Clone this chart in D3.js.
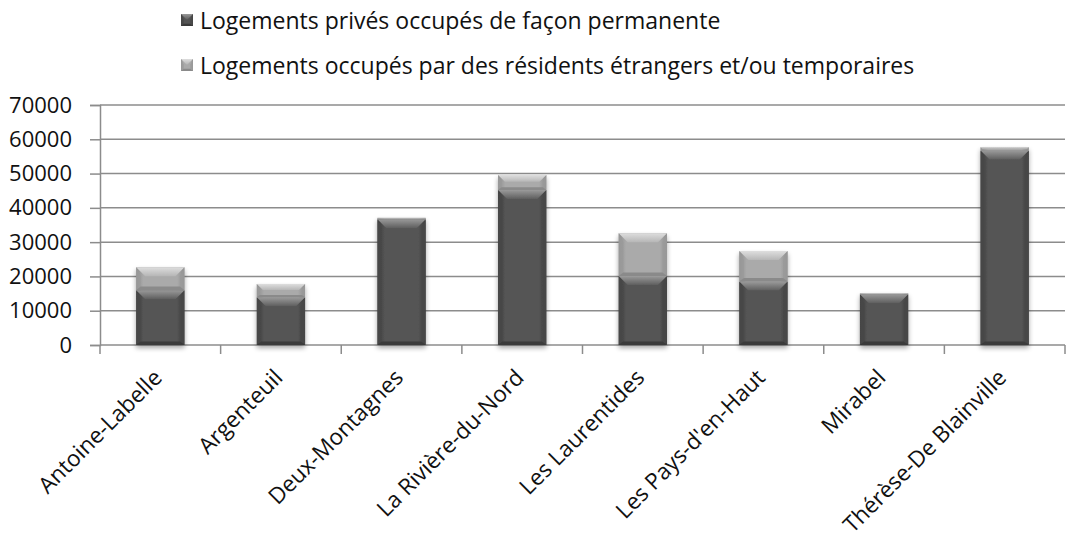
<!DOCTYPE html>
<html>
<head>
<meta charset="utf-8">
<script src="https://cdn.jsdelivr.net/npm/d3@7/dist/d3.min.js"></script>
<style>
body { margin: 0; background: #fff; }
text { font-family: "Open Sans", sans-serif; fill: #111; }
</style>
</head>
<body>
<div id="svgBody"></div>
<script>
// data
var categories = ["Antoine-Labelle", "Argenteuil", "Deux-Montagnes", "La Rivière-du-Nord",
                  "Les Laurentides", "Les Pays-d'en-Haut", "Mirabel", "Thérèse-De Blainville"];
var permanent = [16000, 13900, 36700, 45200, 20100, 18500, 14800, 56700];
var temporary = [6700, 3900, 400, 4400, 12500, 8900, 300, 1000];
var seriesNames = ["Logements privés occupés de façon permanente",
                   "Logements occupés par des résidents étrangers et/ou temporaires"];
var yTicks = [0, 10000, 20000, 30000, 40000, 50000, 60000, 70000];

var W = 1067, H = 539;
var plot = {left: 100, right: 1065, top: 105, bottom: 345};

var svg = d3.select("#svgBody")
    .append("svg")
    .attr("width", W)
    .attr("height", H);

var defs = svg.append("defs");

// bevel colours for the two series
var styles = [
    {id: "perm", face: "#545454", edge: "#3e3e3e", topHi: "#9a9a9a", topLo: "#5e5e5e", side: "#474747", bot: "#3a3a3a"},
    {id: "temp", face: "#aaaaaa", edge: "#8e8e8e", topHi: "#dedede", topLo: "#b6b6b6", side: "#9a9a9a", bot: "#8a8a8a"}
];

styles.forEach(function(s) {
    var g = defs.append("linearGradient").attr("id", s.id + "Face")
        .attr("x1", 0).attr("x2", 1).attr("y1", 0).attr("y2", 0);
    g.append("stop").attr("offset", "0%").attr("stop-color", s.edge);
    g.append("stop").attr("offset", "15%").attr("stop-color", s.face);
    g.append("stop").attr("offset", "85%").attr("stop-color", s.face);
    g.append("stop").attr("offset", "100%").attr("stop-color", s.edge);
    var t = defs.append("linearGradient").attr("id", s.id + "Top")
        .attr("x1", 0).attr("x2", 0).attr("y1", 0).attr("y2", 1);
    t.append("stop").attr("offset", "0%").attr("stop-color", s.topHi);
    t.append("stop").attr("offset", "100%").attr("stop-color", s.topLo);
});

var shadow = defs.append("filter").attr("id", "shadow")
    .attr("x", "-20%").attr("y", "-10%").attr("width", "140%").attr("height", "130%");
shadow.append("feGaussianBlur").attr("in", "SourceAlpha").attr("stdDeviation", 2.5);
shadow.append("feOffset").attr("dx", 0).attr("dy", 3).attr("result", "off");
shadow.append("feComponentTransfer").append("feFuncA").attr("type", "linear").attr("slope", 0.35);
var merge = shadow.append("feMerge");
merge.append("feMergeNode");
merge.append("feMergeNode").attr("in", "SourceGraphic");

var x = d3.scaleBand()
    .domain(categories)
    .range([plot.left, plot.right])
    .padding(0);

var y = d3.scaleLinear()
    .domain([0, 70000])
    .range([plot.bottom, plot.top]);

// gridlines
svg.append("g")
    .selectAll("line")
    .data(yTicks)
    .enter()
    .append("line")
    .attr("x1", plot.left)
    .attr("x2", plot.right)
    .attr("y1", function(d) { return y(d); })
    .attr("y2", function(d) { return y(d); })
    .attr("stroke", "#8c8c8c")
    .attr("stroke-width", 1.5);

// y axis
var yAxis = svg.append("g")
    .attr("transform", "translate(" + plot.left + ",0)")
    .call(d3.axisLeft(y).tickValues(yTicks).tickSize(10).tickPadding(18).tickFormat(d3.format("d")));
yAxis.select(".domain").attr("stroke", "#8c8c8c").attr("stroke-width", 1.5);
yAxis.selectAll(".tick line").attr("stroke", "#8c8c8c").attr("stroke-width", 1.5);
yAxis.selectAll(".tick text")
    .attr("font-size", "22px")
    .attr("font-family", "Open Sans")
    .attr("fill", "#111");

// x axis: tick marks at category boundaries
var bounds = categories.map(function(c) { return x(c); }).concat([plot.right]);
svg.append("g")
    .selectAll("line")
    .data(bounds)
    .enter()
    .append("line")
    .attr("x1", function(d) { return d; })
    .attr("x2", function(d) { return d; })
    .attr("y1", plot.bottom)
    .attr("y2", plot.bottom + 9)
    .attr("stroke", "#8c8c8c")
    .attr("stroke-width", 1.5);

var xAxis = svg.append("g")
    .attr("transform", "translate(0," + plot.bottom + ")")
    .call(d3.axisBottom(x).tickSize(0));
xAxis.select(".domain").remove();
xAxis.selectAll(".tick text")
    .attr("y", 0)
    .attr("dy", 0)
    .attr("transform", "translate(3,34) rotate(-45)")
    .style("text-anchor", "end")
    .attr("font-size", "22.5px")
    .attr("font-family", "Open Sans")
    .attr("fill", "#111");

// bevelled block
function bevel(g, bx, by, bw, bh, s) {
    if (bh <= 0) return;
    var b = Math.min(9, bh / 2.2, bw / 2);
    g.append("rect")
        .attr("x", bx).attr("y", by).attr("width", bw).attr("height", bh)
        .attr("fill", "url(#" + s.id + "Face)");
    // side bevels
    g.append("polygon")
        .attr("points", [[bx, by], [bx + b * 0.5, by + b], [bx + b * 0.5, by + bh - b * 0.4], [bx, by + bh]].join(" "))
        .attr("fill", s.side).attr("opacity", 0.8);
    g.append("polygon")
        .attr("points", [[bx + bw, by], [bx + bw - b * 0.5, by + b], [bx + bw - b * 0.5, by + bh - b * 0.4], [bx + bw, by + bh]].join(" "))
        .attr("fill", s.side).attr("opacity", 0.8);
    // bottom bevel
    g.append("polygon")
        .attr("points", [[bx, by + bh], [bx + b * 0.5, by + bh - b * 0.4], [bx + bw - b * 0.5, by + bh - b * 0.4], [bx + bw, by + bh]].join(" "))
        .attr("fill", s.bot);
    // top bevel
    g.append("polygon")
        .attr("points", [[bx, by], [bx + bw, by], [bx + bw - b, by + b], [bx + b, by + b]].join(" "))
        .attr("fill", "url(#" + s.id + "Top)");
}

var barW = x.bandwidth() * 0.4;
var bars = svg.append("g");

categories.forEach(function(c, i) {
    var g = bars.append("g").attr("filter", "url(#shadow)");
    var bx = x(c) + (x.bandwidth() - barW) / 2;
    var p = permanent[i], t = temporary[i];
    bevel(g, bx, y(p), barW, y(0) - y(p), styles[0]);
    bevel(g, bx, y(p + t), barW, y(p) - y(p + t), styles[1]);
});

// legend
var legend = svg.append("g");
seriesNames.forEach(function(name, i) {
    var ly = 20 + i * 45;
    var lg = legend.append("g");
    bevel(lg, 181, ly - 6, 12, 12, styles[i]);
    legend.append("text")
        .attr("x", 200)
        .attr("y", ly)
        .attr("dominant-baseline", "central")
        .attr("font-size", "23px")
        .text(name);
});
</script>
</body>
</html>
